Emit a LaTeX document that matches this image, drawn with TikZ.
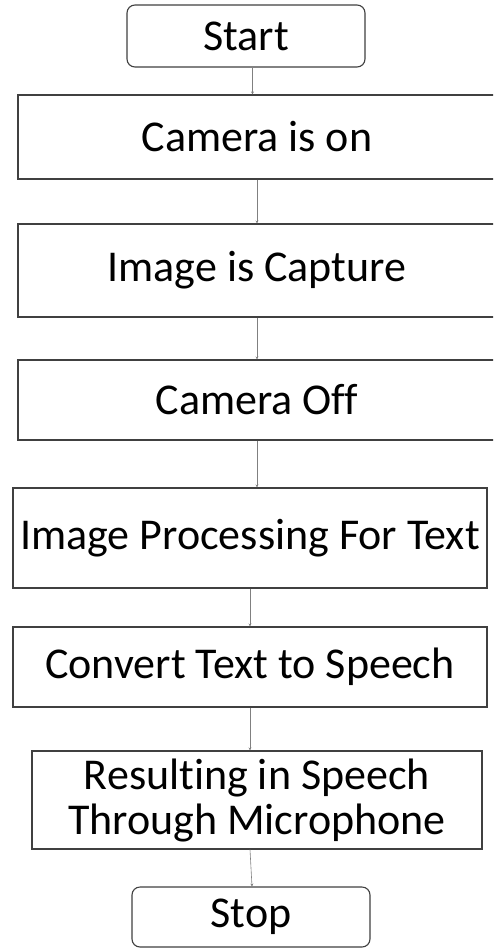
\documentclass[tikz,border=0pt]{standalone}
\usepackage{fontspec}
\setmainfont{Carlito}[Ligatures=NoCommon,RawFeature={-liga;-clig;-dlig}]
\usetikzlibrary{arrows.meta,calc}
\begin{document}
\begin{tikzpicture}[x=1pt,y=-1pt,
  box/.style={draw=black!75,line width=1.1pt,fill=white,inner sep=0pt,align=center,
    font=\fontsize{44}{45}\selectfont},
  term/.style={box,rounded corners=8pt},
  conn/.style={draw=black!50,line width=0.6pt,-{Stealth[length=3pt,width=3pt]}}]
\useasboundingbox (0,0) rectangle (493,948);
\clip (0,0) rectangle (493,948);
\node[term,minimum width=238pt,minimum height=62pt] (start) at (246,36) {Start};
\node[box,minimum width=478pt,minimum height=84pt] (on) at (257,137) {Camera is on};
\node[box,minimum width=478pt,minimum height=93pt] (cap) at (257,270.5) {Image is Capture};
\node[box,minimum width=478pt,minimum height=80pt] (off) at (257,400) {Camera Off};
\node[box,minimum width=474pt,minimum height=100pt] (proc) at (250,538) {Image Processing For Text};
\node[box,minimum width=474pt,minimum height=80pt] (conv) at (250,667) {Convert Text to Speech};
\node[box,minimum width=450pt,minimum height=98pt] (res) at (257,800) {Resulting in Speech\\Through Microphone};
\node[term,minimum width=238pt,minimum height=60pt] (stop) at (251,917) {Stop};
\draw[conn] ([xshift=6.5pt]start.south) -- ([xshift=-4.5pt]on.north);
\draw[conn] (on.south) -- (cap.north);
\draw[conn] (cap.south) -- (off.north);
\draw[conn] (off.south) -- ([xshift=7pt]proc.north);
\draw[conn] (proc.south) -- (conv.north);
\draw[conn] (conv.south) -- ([xshift=-7pt]res.north);
\draw[conn] ([xshift=-7pt]res.south) -- ([xshift=1pt]stop.north);
\end{tikzpicture}
\end{document}
